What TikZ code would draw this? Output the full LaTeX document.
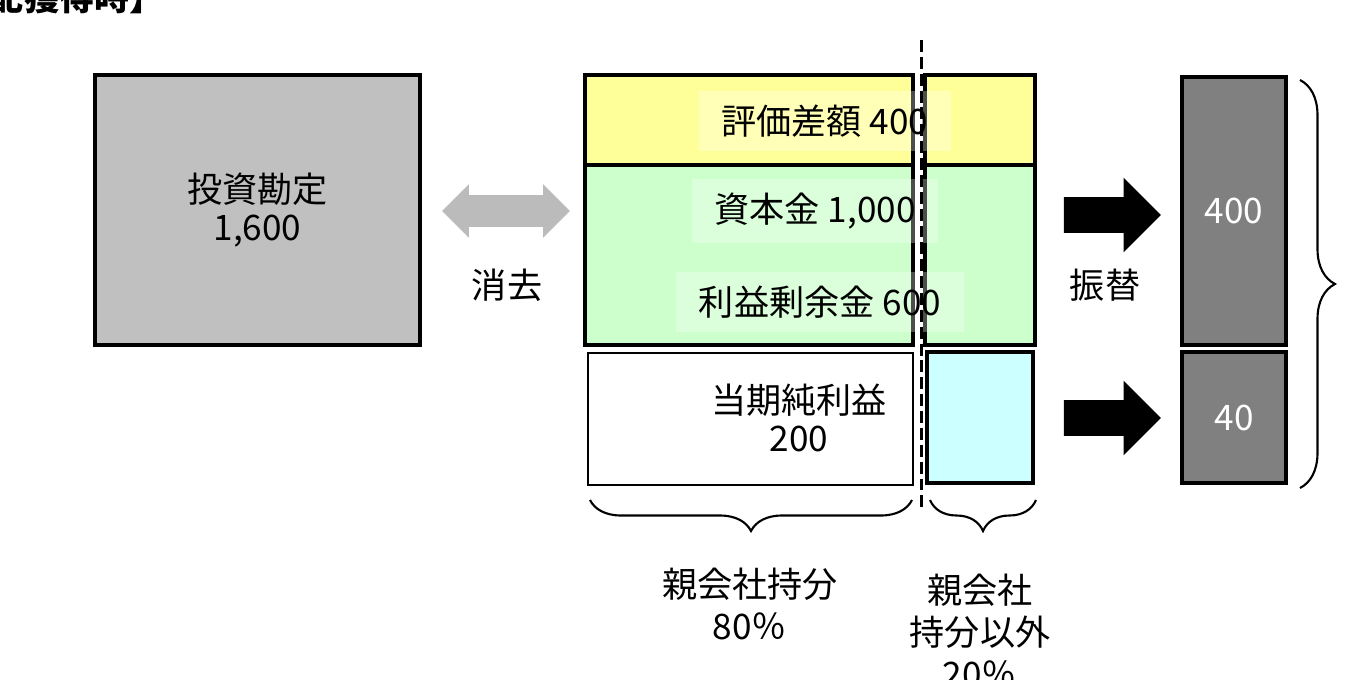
\documentclass[tikz,border=0pt]{standalone}
\usepackage{fontspec}
\setmainfont{Noto Sans CJK JP}
\usepackage{tikz}
\usetikzlibrary{shapes.arrows}
\usetikzlibrary{decorations.pathreplacing}
\definecolor{investgray}{HTML}{C0C0C0}
\definecolor{valyellow}{HTML}{FFFF99}
\definecolor{eqgreen}{HTML}{CCFFCC}
\definecolor{nciblue}{HTML}{CCFFFF}
\definecolor{darkbox}{HTML}{808080}
\definecolor{elimgray}{HTML}{BBBBBB}
\tikzset{box/.style = {draw, line width=2.8pt, inner sep=0pt},
         thinbox/.style = {draw, line width=1.1pt, inner sep=0pt},
         txt/.style = {align=center, font=\fontsize{20}{22}\selectfont},
         tag/.style = {txt, fill=white, fill opacity=0.3, text opacity=1,
                       inner xsep=0.45cm, inner ysep=0.28cm},
         blockarrow/.style = {single arrow, fill=black, inner xsep=0pt, inner ysep=0.35cm,
                              minimum height=1.94cm, single arrow head extend=0.39cm},
         curly/.style = {decorate, decoration={brace, amplitude=0.62cm}, line width=1.2pt},
         splitline/.style = {line width=1.7pt, dash pattern=on 6.8pt off 2.8pt}}

\begin{document}
\begin{tikzpicture}[x=0.02cm, y=-0.02cm]
      \useasboundingbox (0,0) rectangle (1350,680);
      \node [anchor=south east, inner sep=0pt, font=\fontsize{20}{22}\selectfont\bfseries] (title) at (165,14) {【支配獲得時】};
      \node [box, fill=investgray, minimum width=6.5cm, minimum height=5.4cm, txt] (invest) at (257.5,210) {投資勘定\\1,600};
      \node [double arrow, fill=elimgray, inner xsep=0pt, inner ysep=0.31cm, minimum height=2.56cm,
             double arrow head extend=0.22cm] (elim) at (506,211) {};
      \node [txt] (elimtext) at (507,285) {消去};
      \node [box, fill=valyellow, minimum width=6.56cm, minimum height=1.8cm] (valleft) at (749,120) {};
      \node [box, fill=eqgreen, minimum width=6.56cm, minimum height=3.6cm] (eqleft) at (749,255) {};
      \node [box, fill=valyellow, minimum width=2.2cm, minimum height=1.8cm] (valright) at (980,120) {};
      \node [box, fill=eqgreen, minimum width=2.2cm, minimum height=3.6cm] (eqright) at (980,255) {};
      \node [thinbox, fill=white, minimum width=6.5cm, minimum height=2.64cm] (income) at (750.5,419) {};
      \node [box, fill=nciblue, minimum width=2.12cm, minimum height=2.62cm] (minority) at (980,417.5) {};
      \node [tag] (valtext) at (825,121) {評価差額 400};
      \node [tag] (captext) at (815,211) {資本金 1,000};
      \node [tag] (retext) at (820,302) {利益剰余金 600};
      \node [txt] (incometext) at (799,418) {当期純利益\\200};
      \coordinate (splittop) at (921,40);
      \coordinate (splitbot) at (921,512);
      \draw [splitline] (splittop) -- (splitbot);
      \coordinate (parentl) at (590,500);
      \coordinate (parentr) at (912,500);
      \coordinate (ncil) at (930,500);
      \coordinate (ncir) at (1036,500);
      \draw [curly, decoration={mirror}] (parentl) -- (parentr);
      \draw [curly, decoration={mirror}] (ncil) -- (ncir);
      \node [txt, font=\fontsize{20}{24}\selectfont] (parentshare) at (750,604) {親会社持分\\80％};
      \node [txt, font=\fontsize{20}{24}\selectfont] (ncishare) at (980,631) {親会社\\持分以外\\20％};
      \node [blockarrow] (moveup) at (1103.5,215) {};
      \node [blockarrow] (movedown) at (1103.5,418) {};
      \node [txt] (movetext) at (1105,285) {振替};
      \node [box, fill=darkbox, text=white, minimum width=2.08cm, minimum height=5.36cm, txt] (ncival) at (1234,211) {400};
      \node [box, fill=darkbox, text=white, minimum width=2.08cm, minimum height=2.62cm, txt] (nciprofit) at (1234,417.5) {40};
      \coordinate (bracetop) at (1300,80);
      \coordinate (bracebot) at (1300,488);
      \draw [curly, decoration={amplitude=0.7cm}] (bracetop) -- (bracebot);
    \end{tikzpicture}
\end{document}
